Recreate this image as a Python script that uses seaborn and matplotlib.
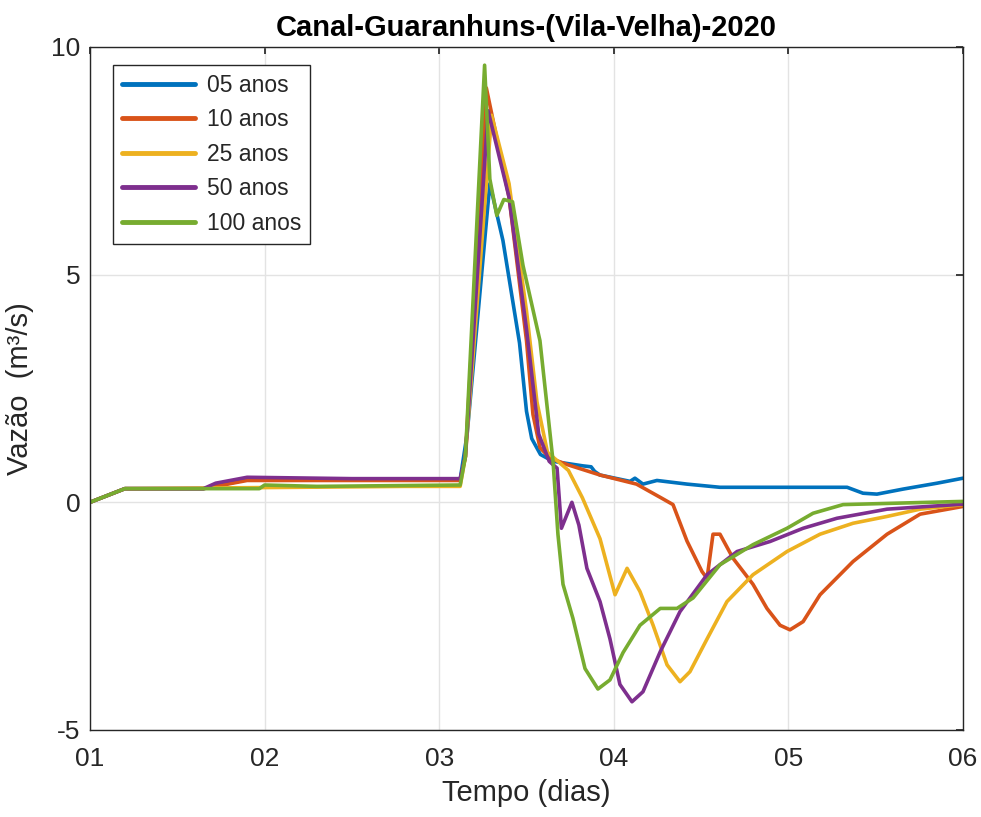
import pandas as pd
import numpy as np
import seaborn as sns
import matplotlib.pyplot as plt

# --- Data (time in days, flow in m3/s) ---
series_names = ['05 anos', '10 anos', '25 anos', '50 anos', '100 anos']

dias_05 = [1.0, 1.2, 1.65, 1.9, 3.12, 3.16, 3.29, 3.365, 3.46, 3.50, 3.53, 3.58, 3.652,
           3.824, 3.87, 3.89, 3.92, 4.093, 4.121, 4.167, 4.247, 4.419, 4.608, 4.992,
           5.336, 5.427, 5.507, 5.656, 5.851, 6.0]
vazao_05 = [0.0, 0.3, 0.3, 0.5, 0.5, 1.5, 7.0, 5.75, 3.5, 2.0, 1.4, 1.05, 0.9,
            0.8, 0.78, 0.68, 0.6, 0.46, 0.53, 0.4, 0.48, 0.4, 0.33, 0.33,
            0.33, 0.2, 0.18, 0.29, 0.42, 0.53]

dias_10 = [1.0, 1.2, 1.65, 1.9, 3.12, 3.15, 3.27, 3.4, 3.5, 3.537, 3.577, 3.635, 3.732,
           3.921, 4.13, 4.27, 4.339, 4.419, 4.505, 4.534, 4.568, 4.608, 4.683, 4.797,
           4.877, 4.952, 5.009, 5.084, 5.181, 5.37, 5.565, 5.754, 6.0]
vazao_10 = [0.0, 0.3, 0.3, 0.48, 0.48, 1.0, 9.1, 6.7, 3.55, 1.93, 1.2, 0.97, 0.83,
            0.6, 0.4, 0.1, -0.05, -0.85, -1.52, -1.67, -0.7, -0.7, -1.23, -1.8,
            -2.33, -2.7, -2.8, -2.62, -2.03, -1.3, -0.7, -0.26, -0.09]

dias_25 = [1.0, 1.2, 2.2, 2.8, 3.12, 3.15, 3.3, 3.4, 3.5, 3.56, 3.62, 3.74, 3.82,
           3.921, 4.007, 4.076, 4.15, 4.225, 4.305, 4.379, 4.436, 4.534, 4.648,
           4.797, 4.992, 5.181, 5.37, 5.565, 5.754, 6.0]
vazao_25 = [0.0, 0.3, 0.33, 0.35, 0.35, 1.0, 8.5, 7.0, 4.2, 2.2, 1.1, 0.7, 0.1,
            -0.8, -2.03, -1.45, -1.96, -2.7, -3.57, -3.94, -3.72, -3.0, -2.18,
            -1.59, -1.08, -0.7, -0.46, -0.31, -0.15, -0.05]

dias_50 = [1.0, 1.2, 1.65, 1.72, 1.9, 2.5, 3.12, 3.15, 3.28, 3.4, 3.5, 3.57, 3.63,
           3.675, 3.70, 3.76, 3.80, 3.846, 3.921, 3.978, 4.035, 4.104, 4.167, 4.266,
           4.379, 4.534, 4.706, 4.895, 5.084, 5.278, 5.565, 6.0]
vazao_50 = [0.0, 0.3, 0.3, 0.42, 0.55, 0.52, 0.52, 1.0, 8.6, 6.7, 3.8, 1.5, 0.9,
            0.75, -0.57, 0.0, -0.5, -1.45, -2.18, -3.0, -4.0, -4.38, -4.16, -3.28,
            -2.4, -1.59, -1.08, -0.86, -0.57, -0.35, -0.15, -0.04]

dias_100 = [1.0, 1.2, 1.97, 2.0, 2.3, 3.12, 3.15, 3.26, 3.29, 3.33, 3.37, 3.42, 3.48,
            3.577, 3.652, 3.68, 3.709, 3.766, 3.835, 3.909, 3.978, 4.053, 4.15, 4.266,
            4.362, 4.454, 4.608, 4.797, 4.992, 5.141, 5.313, 6.0]
vazao_100 = [0.0, 0.3, 0.3, 0.38, 0.35, 0.38, 1.0, 9.6, 7.1, 6.3, 6.65, 6.6, 5.2,
             3.55, 0.9, -0.7, -1.8, -2.55, -3.65, -4.1, -3.9, -3.3, -2.7, -2.33,
             -2.33, -2.1, -1.37, -0.93, -0.57, -0.24, -0.05, 0.02]

all_dias = [dias_05, dias_10, dias_25, dias_50, dias_100]
all_vazao = [vazao_05, vazao_10, vazao_25, vazao_50, vazao_100]

x_ticks = [1, 2, 3, 4, 5, 6]
x_tick_labels = ['01', '02', '03', '04', '05', '06']
y_ticks = [-5, 0, 5, 10]

# long-form table for seaborn
frames = []
for name, d, v in zip(series_names, all_dias, all_vazao):
    frames.append(pd.DataFrame({'Tempo': d, 'Vazao': v, 'Serie': name}))
df = pd.concat(frames, ignore_index=True)

# --- Style ---
sns.set_theme(style="whitegrid")
plt.rcParams['font.family'] = ['Liberation Sans', 'DejaVu Sans']
plt.rcParams['axes.unicode_minus'] = False

matlab_colors = ['#0072BD', '#D95319', '#EDB120', '#7E2F8E', '#77AC30']

fig = plt.figure(figsize=(9.81, 8.17), dpi=100)
ax = fig.add_axes([0.0917, 0.1065, 0.89, 0.836])

sns.lineplot(
    data=df, x='Tempo', y='Vazao', hue='Serie',
    palette=matlab_colors, hue_order=series_names,
    sort=False, estimator=None, linewidth=2.6, ax=ax
)

ax.set_xlim(1, 6)
ax.set_ylim(-5, 10)
ax.set_xticks(x_ticks)
ax.set_xticklabels(x_tick_labels)
ax.set_yticks(y_ticks)
ax.tick_params(axis='both', labelsize=19, colors='#262626', direction='in',
               length=5, top=True, right=True)
ax.tick_params(axis='x', pad=12)
ax.tick_params(axis='y', pad=7)
ax.grid(True, color='#e3e3e3', linewidth=1)
for sp in ax.spines.values():
    sp.set_color('#262626')
    sp.set_linewidth(1.0)

ax.set_xlabel('Tempo (dias)', fontsize=21, color='#262626', labelpad=6)
ax.set_ylabel('Vazão  (m³/s)', fontsize=21, color='#262626', labelpad=12)
ax.set_title('Canal-Guaranhuns-(Vila-Velha)-2020', fontsize=21, fontweight='bold',
             color='black', pad=8)

leg = ax.legend(loc='upper left', bbox_to_anchor=(0.026, 0.974), borderaxespad=0,
                fontsize=16.5, frameon=True, fancybox=False, framealpha=1,
                edgecolor='#262626', handlelength=3.2, labelspacing=0.5,
                handletextpad=0.5, borderpad=0.4)
leg.get_frame().set_linewidth(1.0)
for line in leg.get_lines():
    line.set_linewidth(3.5)

plt.savefig('out.png', dpi=100)
